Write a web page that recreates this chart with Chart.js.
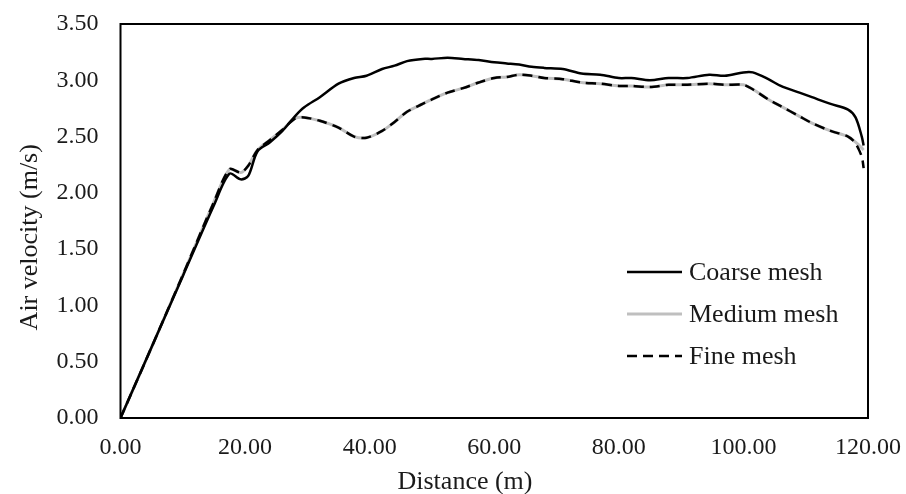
<!DOCTYPE html>
<html lang="en">
<head>
    <meta charset="UTF-8">
    <title>Air velocity vs distance</title>
    <script src="https://cdn.jsdelivr.net/npm/chart.js"></script>
    <style>
        html, body { margin: 0; padding: 0; background: #fff; }
        #wrap { width: 906px; height: 494px; }
    </style>
</head>
<body>
    <div id="wrap"><canvas id="chart"></canvas></div>

    <script>
        // Distance along the tunnel (m), shared by all three series
        const distance = [0, 5, 10, 15, 17.5, 19.3, 20.5, 22, 24, 26, 28, 29.5, 32, 35, 37.5, 39.5, 42, 44, 46, 48.5,
            50, 52.5, 55, 57.5, 60, 62, 64, 66, 68, 71, 74, 77, 80, 82, 85, 88, 91, 94.5, 97, 100,
            101.5, 104, 106, 109, 111, 114, 116.8, 118, 119, 119.3];

        // Air velocity (m/s) per mesh
        const coarse = [0, 0.63, 1.26, 1.89, 2.17, 2.12, 2.15, 2.37, 2.45, 2.55, 2.68, 2.76, 2.85, 2.97, 3.02, 3.04, 3.10, 3.13, 3.17, 3.19,
            3.19, 3.20, 3.19, 3.18, 3.16, 3.15, 3.14, 3.12, 3.11, 3.10, 3.06, 3.05, 3.02, 3.02, 3.00, 3.02, 3.02, 3.05, 3.04, 3.07,
            3.07, 3.01, 2.95, 2.89, 2.85, 2.79, 2.74, 2.67, 2.50, 2.42];
        const medium = [0, 0.63, 1.27, 1.92, 2.21, 2.18, 2.24, 2.38, 2.47, 2.56, 2.66, 2.67, 2.64, 2.58, 2.50, 2.49, 2.55, 2.63, 2.72, 2.79,
            2.83, 2.89, 2.93, 2.98, 3.02, 3.03, 3.05, 3.04, 3.02, 3.01, 2.98, 2.97, 2.95, 2.95, 2.94, 2.96, 2.96, 2.97, 2.96, 2.96,
            2.92, 2.83, 2.77, 2.68, 2.62, 2.55, 2.50, 2.45, 2.40, 2.38];
        const fine = [0, 0.63, 1.27, 1.92, 2.21, 2.18, 2.24, 2.38, 2.47, 2.56, 2.66, 2.67, 2.64, 2.58, 2.50, 2.49, 2.55, 2.63, 2.72, 2.79,
            2.83, 2.89, 2.93, 2.98, 3.02, 3.03, 3.05, 3.04, 3.02, 3.01, 2.98, 2.97, 2.95, 2.95, 2.94, 2.96, 2.96, 2.97, 2.96, 2.96,
            2.92, 2.83, 2.77, 2.68, 2.62, 2.55, 2.50, 2.44, 2.32, 2.22];

        const seriesNames = ["Coarse mesh", "Medium mesh", "Fine mesh"];

        function toPoints(ys) {
            return distance.map((d, i) => ({ x: d, y: ys[i] }));
        }

        const font = "'Liberation Serif', 'Times New Roman', serif";

        // frame around the plot area
        const framePlugin = {
            id: 'frame',
            afterDraw(chart) {
                const a = chart.chartArea;
                const ctx = chart.ctx;
                ctx.save();
                ctx.strokeStyle = '#000';
                ctx.lineWidth = 2;
                ctx.strokeRect(a.left, a.top, a.right - a.left, a.bottom - a.top);
                ctx.restore();
            }
        };

        // legend drawn inside the plot area, lower right
        const legendPlugin = {
            id: 'innerLegend',
            afterDraw(chart) {
                const a = chart.chartArea;
                const ctx = chart.ctx;
                ctx.save();
                ctx.font = "26px " + font;
                ctx.textBaseline = 'middle';
                chart.data.datasets.forEach((ds, i) => {
                    const y = a.top + 248 + i * 42;
                    const x0 = a.right - 241;
                    ctx.beginPath();
                    ctx.strokeStyle = ds.borderColor;
                    ctx.lineWidth = ds.borderWidth;
                    ctx.setLineDash(ds.borderDash || []);
                    ctx.moveTo(x0, y);
                    ctx.lineTo(x0 + 55, y);
                    ctx.stroke();
                    ctx.setLineDash([]);
                    ctx.fillStyle = '#1a1a1a';
                    ctx.fillText(seriesNames[i], x0 + 62, y + 1);
                });
                ctx.restore();
            }
        };

        new Chart(document.getElementById('chart'), {
            type: 'line',
            data: {
                datasets: [
                    {
                        label: seriesNames[0],
                        data: toPoints(coarse),
                        borderColor: '#000000',
                        borderWidth: 2.5,
                        pointRadius: 0,
                        tension: 0.3,
                        order: 1
                    },
                    {
                        label: seriesNames[1],
                        data: toPoints(medium),
                        borderColor: '#bfbfbf',
                        borderWidth: 3,
                        pointRadius: 0,
                        tension: 0.3,
                        order: 2
                    },
                    {
                        label: seriesNames[2],
                        data: toPoints(fine),
                        borderColor: '#000000',
                        borderWidth: 2.5,
                        borderDash: [10, 6],
                        pointRadius: 0,
                        tension: 0.3,
                        order: 0
                    }
                ]
            },
            options: {
                responsive: true,
                maintainAspectRatio: false,
                animation: false,
                layout: { padding: { top: 24, right: 38, left: 0, bottom: 0 } },
                plugins: {
                    legend: { display: false },
                    tooltip: { enabled: false }
                },
                scales: {
                    x: {
                        type: 'linear',
                        min: 0,
                        max: 120,
                        grid: { display: false, drawTicks: false },
                        border: { display: false },
                        ticks: {
                            stepSize: 20,
                            padding: 15,
                            color: '#1a1a1a',
                            font: { family: font, size: 24 },
                            maxRotation: 0,
                            callback: v => v.toFixed(2)
                        },
                        title: {
                            display: true,
                            // trailing spaces nudge the title left, as in the original
                            text: 'Distance (m)         ',
                            color: '#1a1a1a',
                            font: { family: font, size: 26 },
                            padding: { top: 6, bottom: -4 }
                        },
                        afterFit: s => {
                            s.height = 76;
                            s.paddingLeft = 0;
                            s.paddingRight = 0;
                        }
                    },
                    y: {
                        min: 0,
                        max: 3.5,
                        grid: { display: false, drawTicks: false },
                        border: { display: false },
                        ticks: {
                            stepSize: 0.5,
                            padding: 22,
                            color: '#1a1a1a',
                            font: { family: font, size: 24 },
                            callback: v => v.toFixed(2)
                        },
                        title: {
                            display: true,
                            text: 'Air velocity (m/s)     ',
                            color: '#1a1a1a',
                            font: { family: font, size: 26 },
                            padding: { top: 15, bottom: 0 }
                        },
                        afterFit: s => {
                            s.width = 120.5;
                            s.paddingTop = 0;
                            s.paddingBottom = 0;
                        }
                    }
                }
            },
            plugins: [framePlugin, legendPlugin]
        });
    </script>
</body>
</html>
